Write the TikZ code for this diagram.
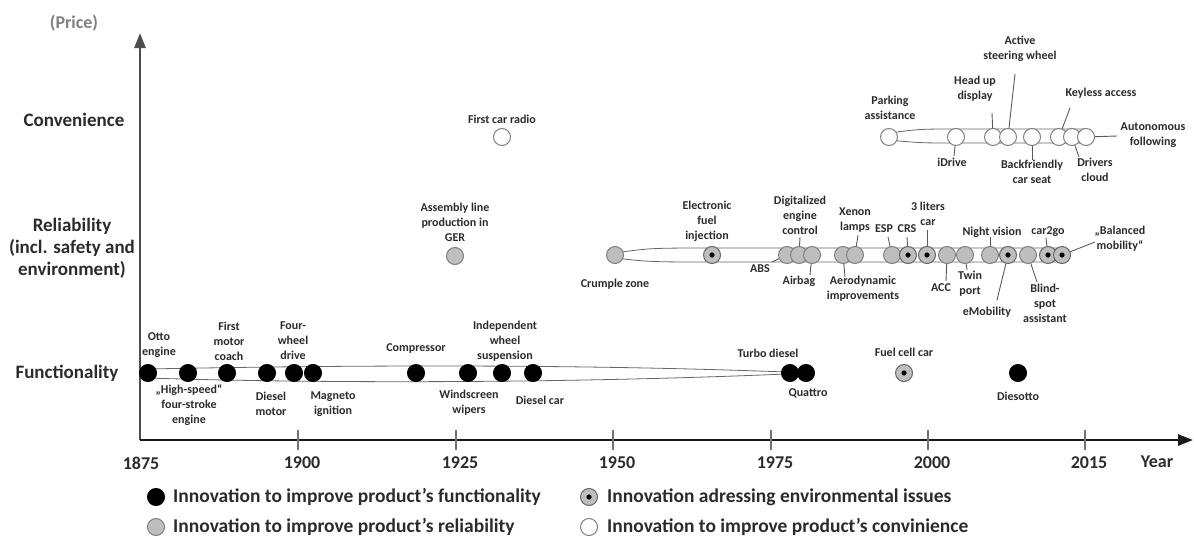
\documentclass[tikz,border=0pt]{standalone}
\usepackage{fontspec}
\setmainfont{Carlito}
\usetikzlibrary{arrows.meta}

\definecolor{txtgray}{HTML}{2B2B2B}
\definecolor{relgray}{HTML}{BEBEBE}
\definecolor{rimgray}{HTML}{7F7F7F}

\begin{document}
\begin{tikzpicture}[x=1pt,y=-1pt,
		lbl/.style={font=\fontsize{12}{15}\selectfont\bfseries, text=txtgray, align=center, inner sep=0pt},
		dot/.style={circle, minimum size=17pt, inner sep=0pt, line width=1pt},
		fn/.style={dot, draw=black, fill=black},
		rel/.style={dot, draw=rimgray, fill=relgray},
		env/.style={rel, draw=black!60, path picture={\fill[black] (path picture bounding box.center) circle (2.6);}},
		conv/.style={dot, draw=rimgray, fill=white},
		lead/.style={draw=black!65, line width=0.9pt},
		band/.style={draw=black!60, fill=white, line width=0.8pt},
		axis/.style={line width=2.6pt, -{Triangle[length=15pt,width=11pt]}},
		row/.style={font=\fontsize{19}{22}\selectfont\bfseries, text=txtgray, align=center, inner sep=0pt},
		yr/.style={font=\fontsize{18}{20}\selectfont\bfseries, text=txtgray, inner sep=0pt},
		leg/.style={font=\fontsize{19.5}{22}\selectfont\bfseries, text=txtgray, anchor=west, inner sep=0pt}]
	\useasboundingbox (0,0) rectangle (1194,538);

	% axes
	\coordinate (o) at (140,440);
	\coordinate (ytip) at (140,33);
	\coordinate (xtip) at (1193,440);
	\draw[axis, draw=black!70, fill=black!70] (o) -- (ytip);
	\draw[axis, draw=black!90, fill=black!90] (o) -- (xtip);
	\foreach \x/\yy in {298/1900, 456/1925, 613/1950, 771/1975, 928/2000, 1085/2015} {
		\draw[black!55, line width=1.2pt] (\x,430) -- (\x,450);
		\node[yr] (y\yy) at (\x+4,463) {\yy};
	}
	\node[yr] (y1875) at (141,463) {1875};
	\node[yr] (year) at (1157,462) {Year};
	\node[yr, text=black!50] (price) at (74,23) {(Price)};

	\node[row] (convrow) at (74,120) {Convenience};
	\node[row] (relrow) at (72,248) {Reliability\\(incl. safety and\\environment)};
	\node[row] (funrow) at (67,373) {Functionality};

	% bands
	\path[band] (148,369) .. controls (300,366) and (550,363) .. (786,372) -- (786,374) .. controls (550,384) and (300,383) .. (148,378) -- cycle;
	\path[band] (615,253) .. controls (650,248) .. (720,248) -- (1062,248) -- (1062,262) -- (720,262) .. controls (650,262) .. (615,258) -- cycle;
	\path[band] (889,133) .. controls (920,129) .. (960,129) -- (1086,129) -- (1086,143) -- (960,143) .. controls (920,143) .. (889,140) -- cycle;

	% functionality
	\node[fn] (otto) at (148,373) {};
	\node[fn] (hse) at (188,373) {};
	\node[fn] (fmc) at (227,373) {};
	\node[fn] (dsm) at (267,373) {};
	\node[fn] (fwd) at (294,373) {};
	\node[fn] (mag) at (313,373) {};
	\node[fn] (cmp) at (416,373) {};
	\node[fn] (wsw) at (468,373) {};
	\node[fn] (iws) at (502,373) {};
	\node[fn] (dsc) at (533,373) {};
	\node[fn] (tbd) at (790,373) {};
	\node[fn] (qtr) at (806,373) {};
	\node[env] (fcc) at (904,373) {};
	\node[fn] (dso) at (1018,373) {};

	% reliability
	\node[rel] (aly) at (455,256) {};
	\node[rel] (crz) at (615,255) {};
	\node[env] (efi) at (712,255) {};
	\node[rel] (abs) at (787,255) {};
	\node[rel] (dec) at (799,255) {};
	\node[rel] (air) at (812,255) {};
	\node[rel] (aer) at (843,255) {};
	\node[rel] (xen) at (855,255) {};
	\node[rel] (esp) at (892,255) {};
	\node[env] (crs) at (908,255) {};
	\node[env] (tlc) at (927,255) {};
	\node[rel] (acc) at (947,255) {};
	\node[rel] (twp) at (965,255) {};
	\node[rel] (ngv) at (990,255) {};
	\node[env] (emo) at (1008,255) {};
	\node[rel] (bsa) at (1028,255) {};
	\node[env] (c2g) at (1048,255) {};
	\node[env] (bal) at (1062,255) {};

	% convenience
	\node[conv] (fcr) at (502,137) {};
	\node[conv] (pa) at (889,137) {};
	\node[conv] (idr) at (956,137) {};
	\node[conv] (hud) at (993,137) {};
	\node[conv] (asw) at (1008,137) {};
	\node[conv] (bcs) at (1032,137) {};
	\node[conv] (kla) at (1059,137) {};
	\node[conv] (drc) at (1072,137) {};
	\node[conv] (auf) at (1086,137) {};

	% leaders
	\foreach \c/\x/\y in {idr/954/156, hud/992/113, asw/1015/74, bcs/1032/160, kla/1070/108, drc/1079/157, auf/1117/136,
			abs/772/262, dec/800/237, air/810/275, aer/845/277, xen/858/235, esp/888/237, crs/907/237, tlc/927/230,
			acc/946/281, twp/967/270, ngv/990/237, emo/997/300, bsa/1037/282, c2g/1046/238, bal/1095/242} {
		\coordinate (\c-e) at (\x,\y);
		\draw[lead] (\c) -- (\c-e);
	}

	% labels
	\node[lbl] (otto-t) at (159,345) {Otto\\engine};
	\node[lbl] (hse-t) at (189,405) {„High-speed“\\four-stroke\\engine};
	\node[lbl] (fmc-t) at (229,341) {First\\motor\\coach};
	\node[lbl] (dsm-t) at (271,404) {Diesel\\motor};
	\node[lbl] (fwd-t) at (293,341) {Four-\\wheel\\drive};
	\node[lbl] (mag-t) at (333,404) {Magneto\\ignition};
	\node[lbl] (cmp-t) at (416,349) {Compressor};
	\node[lbl] (wsw-t) at (469,403) {Windscreen\\wipers};
	\node[lbl] (iws-t) at (505,341) {Independent\\wheel\\suspension};
	\node[lbl] (dsc-t) at (540,400) {Diesel car};
	\node[lbl] (tbd-t) at (768,353) {Turbo diesel};
	\node[lbl] (qtr-t) at (808,393) {Quattro};
	\node[lbl] (fcc-t) at (904,352) {Fuel cell car};
	\node[lbl] (dso-t) at (1018,396) {Diesotto};

	\node[lbl] (aly-t) at (455,222) {Assembly line\\production in\\GER};
	\node[lbl] (crz-t) at (615,284) {Crumple zone};
	\node[lbl] (efi-t) at (707,221) {Electronic\\fuel\\injection};
	\node[lbl] (abs-t) at (760,269) {ABS};
	\node[lbl] (dec-t) at (800,215) {Digitalized\\engine\\control};
	\node[lbl] (air-t) at (799,281) {Airbag};
	\node[lbl] (aer-t) at (863,289) {Aerodynamic\\improvements};
	\node[lbl] (xen-t) at (855,220) {Xenon\\lamps};
	\node[lbl] (esp-t) at (884,229) {ESP};
	\node[lbl] (crs-t) at (907,229) {CRS};
	\node[lbl] (tlc-t) at (928,214) {3 liters\\car};
	\node[lbl] (acc-t) at (941,288) {ACC};
	\node[lbl] (twp-t) at (970,284) {Twin\\port};
	\node[lbl] (ngv-t) at (992,232) {Night vision};
	\node[lbl] (emo-t) at (987,312) {eMobility};
	\node[lbl] (bsa-t) at (1045,303) {Blind-\\spot\\assistant};
	\node[lbl] (c2g-t) at (1048,232) {car2go};
	\node[lbl] (bal-t) at (1120,239) {„Balanced\\mobility“};

	\node[lbl] (fcr-t) at (502,119) {First car radio};
	\node[lbl] (pa-t) at (890,108) {Parking\\assistance};
	\node[lbl] (idr-t) at (952,162) {iDrive};
	\node[lbl] (hud-t) at (975,89) {Head up\\display};
	\node[lbl] (asw-t) at (1020,49) {Active\\steering wheel};
	\node[lbl] (bcs-t) at (1032,172) {Backfriendly\\car seat};
	\node[lbl] (kla-t) at (1101,93) {Keyless access};
	\node[lbl] (drc-t) at (1095,170) {Drivers\\cloud};
	\node[lbl] (auf-t) at (1153,135) {Autonomous\\following};

	% legend
	\node[fn] (leg1) at (156,497) {};
	\node[rel] (leg2) at (156,527) {};
	\node[env] (leg3) at (589,497) {};
	\node[conv] (leg4) at (589,527) {};
	\node[leg] (leg1-t) at (173,497) {Innovation to improve product’s functionality};
	\node[leg] (leg2-t) at (173,527) {Innovation to improve product’s reliability};
	\node[leg] (leg3-t) at (607,497) {Innovation adressing environmental issues};
	\node[leg] (leg4-t) at (607,527) {Innovation to improve product’s convinience};
\end{tikzpicture}
\end{document}
